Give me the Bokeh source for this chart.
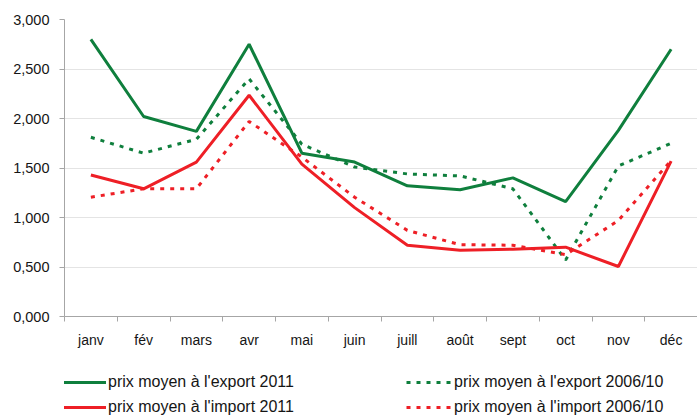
from bokeh.plotting import figure
from bokeh.models import Range1d, FixedTicker, Legend, LegendItem
from bokeh.layouts import column
from bokeh.embed import file_html
from bokeh.resources import INLINE

months = ["janv", "fév", "mars", "avr", "mai", "juin", "juill", "août", "sept", "oct", "nov", "déc"]
export_2011 = [2.80, 2.02, 1.87, 2.75, 1.65, 1.56, 1.32, 1.28, 1.40, 1.16, 1.88, 2.70]
export_0610 = [1.81, 1.65, 1.79, 2.40, 1.74, 1.51, 1.44, 1.42, 1.29, 0.57, 1.52, 1.75]
import_2011 = [1.43, 1.29, 1.56, 2.235, 1.54, 1.10, 0.72, 0.67, 0.68, 0.70, 0.505, 1.57]
import_0610 = [1.205, 1.29, 1.29, 1.97, 1.61, 1.205, 0.87, 0.725, 0.72, 0.625, 0.97, 1.575]
y_ticks = [0, 0.5, 1.0, 1.5, 2.0, 2.5, 3.0]
y_labels = ["0,000", "0,500", "1,000", "1,500", "2,000", "2,500", "3,000"]
series_labels = ["prix moyen à l'export 2011", "prix moyen à l'export 2006/10",
                 "prix moyen à l'import 2011", "prix moyen à l'import 2006/10"]

GREEN = "#0f7f3d"
RED = "#ee1f26"
FONT = "Liberation Sans"
TXT = "#151515"
DOT = "4 6"

xs = [i + 0.5 for i in range(len(months))]
all_series = [export_2011, export_0610, import_2011, import_0610]

p = figure(width=697, height=352, output_backend="svg", toolbar_location=None,
           x_range=Range1d(0, len(months)), y_range=Range1d(0, 3))
p.min_border_left = 64
p.min_border_right = 0
p.min_border_top = 19
p.min_border_bottom = 36
p.outline_line_color = None

p.xgrid.grid_line_color = None
p.ygrid.grid_line_color = "#e4e4e4"
p.ygrid.ticker = FixedTicker(ticks=y_ticks)

xa = p.xaxis[0]
xa.ticker = FixedTicker(ticks=xs, minor_ticks=list(range(len(months) + 1)))
xa.major_label_overrides = {x: m for x, m in zip(xs, months)}
xa.major_tick_line_color = None
xa.major_tick_out = 0
xa.minor_tick_out = 5
xa.minor_tick_in = 0
xa.minor_tick_line_color = "#a6a6a6"
xa.axis_line_color = "#a6a6a6"
xa.major_label_standoff = 10
xa.major_label_text_font = FONT
xa.major_label_text_font_size = "14px"
xa.major_label_text_color = TXT

ya = p.yaxis[0]
ya.ticker = FixedTicker(ticks=y_ticks)
ya.major_label_overrides = {t: l for t, l in zip(y_ticks, y_labels)}
ya.minor_tick_line_color = None
ya.major_tick_out = 5
ya.major_tick_in = 0
ya.major_tick_line_color = "#a6a6a6"
ya.axis_line_color = "#a6a6a6"
ya.major_label_standoff = 10
ya.major_label_text_font = FONT
ya.major_label_text_font_size = "14.5px"
ya.major_label_text_color = TXT

styles = [
    dict(line_color=GREEN, line_width=3),
    dict(line_color=GREEN, line_width=3, line_dash=DOT),
    dict(line_color=RED, line_width=3),
    dict(line_color=RED, line_width=3, line_dash=DOT),
]
for ys, st in zip(all_series, styles):
    p.line(xs, ys, **st)

# legend panel below the chart (its data lie outside the visible ranges)
q = figure(width=697, height=64, output_backend="svg", toolbar_location=None,
           x_range=Range1d(100, 101), y_range=Range1d(100, 101),
           x_axis_location=None, y_axis_location=None)
q.min_border_left = 0
q.min_border_right = 0
q.min_border_top = 0
q.min_border_bottom = 0
q.outline_line_color = None
q.xgrid.visible = False
q.ygrid.visible = False

legend_renderers = [q.line(xs, ys, **st) for ys, st in zip(all_series, styles)]


def make_legend(idx, loc):
    items = [LegendItem(label=series_labels[i], renderers=[legend_renderers[i]]) for i in idx]
    lg = Legend(items=items, orientation="horizontal", location=loc)
    lg.border_line_color = None
    lg.background_fill_alpha = 0
    lg.label_text_font = FONT
    lg.label_text_font_size = "16px"
    lg.label_text_color = TXT
    lg.glyph_width = 46
    lg.glyph_height = 16
    lg.label_standoff = 2
    lg.label_width = 298
    lg.spacing = 0
    lg.padding = 0
    lg.margin = 0
    return lg


q.add_layout(make_legend([0, 1], (-4, 25)))
q.add_layout(make_legend([2, 3], (-4, 0)))

layout = column(p, q, spacing=0)
open("out.html", "w").write(file_html(layout, INLINE))
